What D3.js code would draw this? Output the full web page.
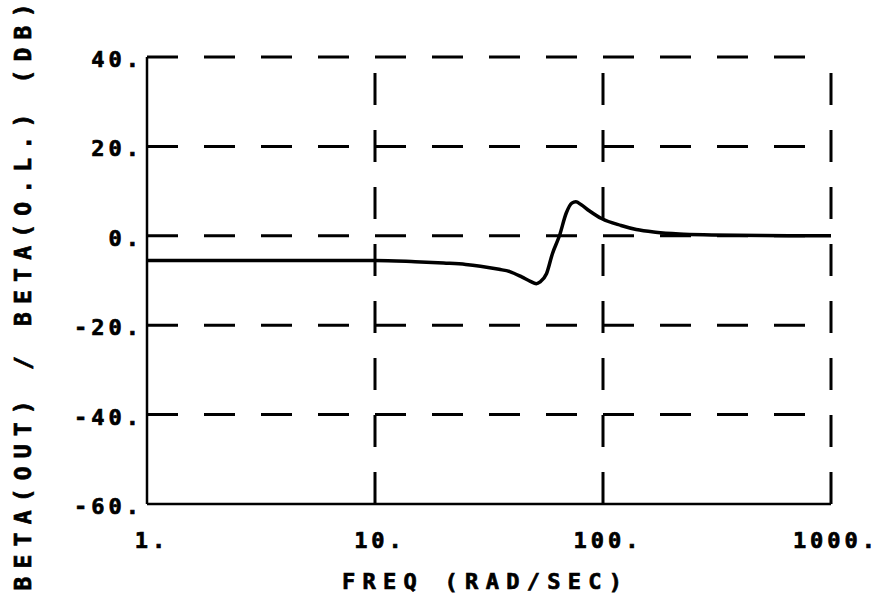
<!DOCTYPE html>
<html>
<head>
<meta charset="utf-8">
<script src="https://cdn.jsdelivr.net/npm/d3@7/dist/d3.min.js"></script>
<style>
  html, body { margin: 0; padding: 0; background: #fff; }
  text { font-family: "DejaVu Sans Mono", monospace; font-weight: bold; fill: #000; stroke: #000; stroke-width: 0.7px; }
</style>
</head>
<body>
<div id="container"></div>
<script>
// data
const freq = [1, 2, 5, 10, 15, 20, 25, 29, 35, 39, 44, 48, 51, 53, 56.5, 60, 64.4, 69, 73, 76, 80, 87, 99, 120, 140, 170, 216, 300, 500, 1000];
const gainDb = [-5.5, -5.5, -5.5, -5.5, -5.8, -6.1, -6.4, -6.8, -7.5, -8.0, -9.2, -10.2, -10.7, -10.3, -8.5, -4.0, 0.0, 5.1, 7.3, 7.6, 7.0, 5.6, 3.8, 2.3, 1.4, 0.8, 0.4, 0.2, 0.05, 0.0];

const xTicks = [1, 10, 100, 1000];
const xTickLabels = ["1.", "10.", "100.", "1000."];
const yTicks = [40, 20, 0, -20, -40, -60];
const yTickLabels = ["40.", "20.", "0.", "-20.", "-40.", "-60."];

const dimensions = {
	width: 884,
	height: 607,
	margin: { left: 147, right: 53, top: 57, bottom: 103 }
}
const plotW = dimensions.width - dimensions.margin.left - dimensions.margin.right;
const plotH = dimensions.height - dimensions.margin.top - dimensions.margin.bottom;

const svg = d3.select("#container")
	.append("svg")
	.attr("width", dimensions.width)
	.attr("height", dimensions.height)

const x = d3.scaleLog().domain([1, 1000]).range([0, plotW]);
const y = d3.scaleLinear().domain([-60, 40]).range([plotH, 0]);

const g = svg.append("g")
	.attr("transform", `translate(${dimensions.margin.left}, ${dimensions.margin.top})`)

// horizontal dashed grid (skip bottom, it's the axis)
g.selectAll(".hgrid")
	.data(yTicks.filter(d => d !== -60))
	.enter()
	.append("line")
	.attr("x1", 0)
	.attr("x2", plotW)
	.attr("y1", d => y(d))
	.attr("y2", d => y(d))
	.attr("stroke", "#000")
	.attr("stroke-width", 3)
	.attr("stroke-dasharray", "31,26")

// vertical dashed grid, drawn bottom-up
g.selectAll(".vgrid")
	.data(xTicks.filter(d => d !== 1))
	.enter()
	.append("line")
	.attr("x1", d => x(d))
	.attr("x2", d => x(d))
	.attr("y1", plotH)
	.attr("y2", 0)
	.attr("stroke", "#000")
	.attr("stroke-width", 3)
	.attr("stroke-dasharray", "32,25")

// solid left + bottom axes
g.append("line")
	.attr("x1", 0).attr("x2", 0)
	.attr("y1", 0).attr("y2", plotH)
	.attr("stroke", "#000").attr("stroke-width", 2.5)
g.append("line")
	.attr("x1", 0).attr("x2", plotW)
	.attr("y1", plotH).attr("y2", plotH)
	.attr("stroke", "#000").attr("stroke-width", 2.5)

// curve
const line = d3.line()
	.x((d, i) => x(freq[i]))
	.y(d => y(d))
	.curve(d3.curveMonotoneX)

g.append("path")
	.datum(gainDb)
	.attr("d", line)
	.attr("fill", "none")
	.attr("stroke", "#000")
	.attr("stroke-width", 3.5)
	.attr("stroke-linejoin", "round")

// y tick labels
g.selectAll(".ylab")
	.data(yTicks)
	.enter()
	.append("text")
	.attr("x", -4)
	.attr("y", d => y(d) + 10)
	.attr("text-anchor", "end")
	.attr("font-size", 22)
	.attr("letter-spacing", 4)
	.text((d, i) => yTickLabels[i])

// x tick labels
g.selectAll(".xlab")
	.data(xTicks)
	.enter()
	.append("text")
	.attr("x", d => x(d) + 5)
	.attr("y", plotH + 44)
	.attr("text-anchor", "middle")
	.attr("font-size", 22)
	.attr("letter-spacing", 4)
	.text((d, i) => xTickLabels[i])

// axis titles
svg.append("text")
	.attr("x", 482)
	.attr("y", 589)
	.attr("text-anchor", "middle")
	.attr("font-size", 22)
	.attr("textLength", 280)
	.attr("lengthAdjust", "spacing")
	.text("FREQ  (RAD/SEC)")

svg.append("text")
	.attr("transform", "translate(31, 297) rotate(-90)")
	.attr("text-anchor", "middle")
	.attr("font-size", 23)
	.attr("textLength", 587)
	.attr("lengthAdjust", "spacing")
	.text("BETA(OUT)  /  BETA(O.L.)  (DB)")
</script>
</body>
</html>
